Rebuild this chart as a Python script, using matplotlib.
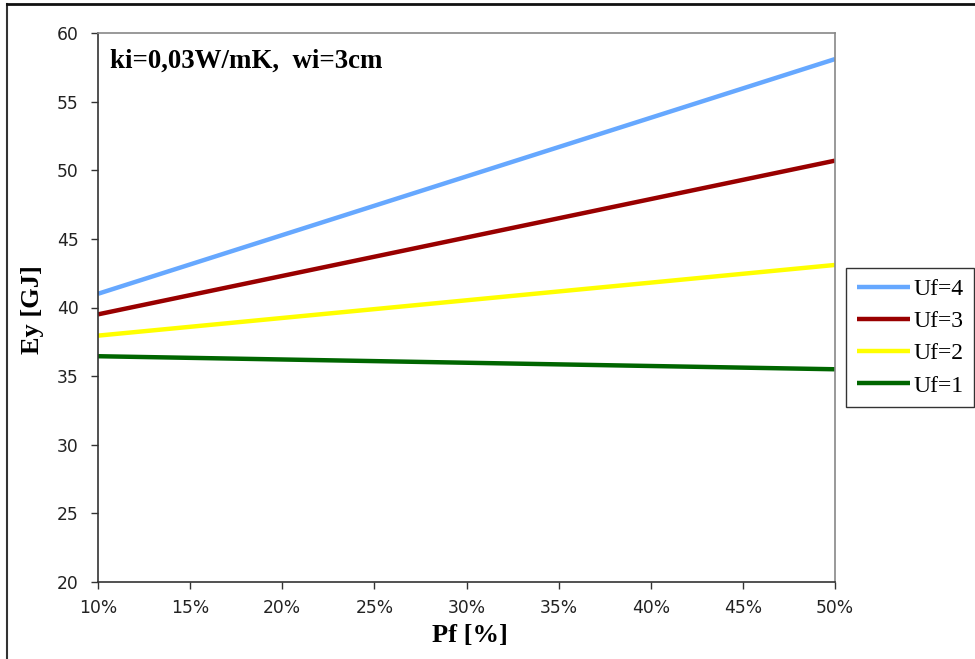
import matplotlib
matplotlib.use("Agg")
import matplotlib.pyplot as plt
from matplotlib.lines import Line2D
from matplotlib.ticker import FuncFormatter

# Glazing fraction Pf [%] and annual energy Ey [GJ] per frame U-value
pf = [10, 50]
series_labels = ["Uf=4", "Uf=3", "Uf=2", "Uf=1"]
ey_uf4 = [41.0, 58.1]
ey_uf3 = [39.5, 50.7]
ey_uf2 = [37.95, 43.1]
ey_uf1 = [36.45, 35.5]
series_colors = ["#66A8FF", "#990000", "#FFFF00", "#006600"]

x_ticks = [10, 15, 20, 25, 30, 35, 40, 45, 50]
y_ticks = [20, 25, 30, 35, 40, 45, 50, 55, 60]

fig = plt.figure(figsize=(9.75, 6.59), dpi=100)
ax = fig.add_axes([98 / 975, 1 - 582 / 659, (835 - 98) / 975, (582 - 33) / 659])

serif = "Liberation Serif"
for vals, lab, col in zip([ey_uf4, ey_uf3, ey_uf2, ey_uf1], series_labels, series_colors):
    ax.plot(pf, vals, color=col, lw=3.2, label=lab, solid_capstyle="butt")

ax.set_xlim(10, 50)
ax.set_ylim(20, 60)
ax.set_xticks(x_ticks)
ax.set_yticks(y_ticks)
ax.xaxis.set_major_formatter(FuncFormatter(lambda v, p: f"{int(v)}%"))
ax.tick_params(axis="both", direction="out", length=5, width=1, color="#333333",
               labelsize=12.3, labelcolor="#222222", top=False, right=False)
ax.tick_params(axis="x", pad=7)
ax.tick_params(axis="y", pad=9)

for side in ("left", "bottom"):
    ax.spines[side].set_color("#333333")
    ax.spines[side].set_linewidth(1.2)
for side in ("top", "right"):
    ax.spines[side].set_color("#888888")
    ax.spines[side].set_linewidth(1.2)

ax.set_xlabel("Pf [%]", fontfamily=serif, fontweight="bold", fontsize=19)
ax.xaxis.set_label_coords(0.505, -0.097)
ax.xaxis.label.set_va("center")
ax.set_ylabel("Ey [GJ]", fontfamily=serif, fontweight="bold", fontsize=19)
ax.yaxis.set_label_coords(-0.089, 0.497)
ax.yaxis.label.set_va("center")

ax.text(0.016, 0.937, "ki=0,03W/mK,  wi=3cm", transform=ax.transAxes,
        fontfamily=serif, fontweight="bold", fontsize=19.4, va="baseline", ha="left")

leg = fig.legend(loc="upper left", bbox_to_anchor=(846 / 975, 1 - 268 / 659),
                 prop={"family": serif, "size": 17}, frameon=True, fancybox=False,
                 edgecolor="black", handlelength=2.25, handletextpad=0.15,
                 labelspacing=0.45, borderpad=0.45, borderaxespad=0.0)
leg.get_frame().set_linewidth(1.0)

# outer chart frame (left and top edges)
fig.add_artist(Line2D([7 / 975, 7 / 975], [0, 1 - 4 / 659], transform=fig.transFigure,
                      color="#333333", lw=1.5))
fig.add_artist(Line2D([7 / 975, 1], [1 - 4 / 659, 1 - 4 / 659], transform=fig.transFigure,
                      color="#111111", lw=2.0))

fig.savefig("out.png", dpi=100)
